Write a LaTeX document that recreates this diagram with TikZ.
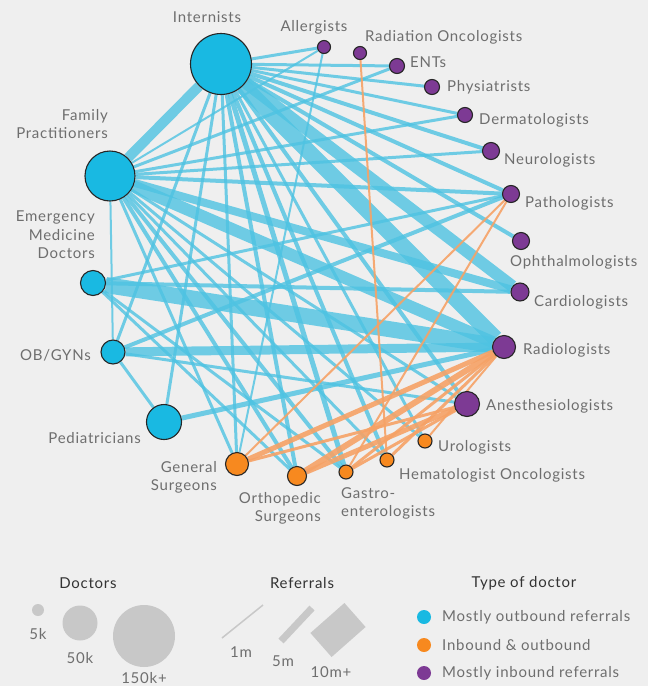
\documentclass[tikz,border=0pt]{standalone}
\usepackage{fontspec}
\setmainfont{Lato}[LetterSpace=5]
\pgfdeclarelayer{back}
\pgfdeclarelayer{bg}
\pgfsetlayers{back,bg,main}
\definecolor{bgc}{HTML}{EFEFEF}
\definecolor{cblue}{HTML}{19B9E2}
\definecolor{corange}{HTML}{F7891F}
\definecolor{cpurple}{HTML}{7D3A94}
\definecolor{eblue}{HTML}{4EC3E2}
\definecolor{eorange}{HTML}{F6A266}
\definecolor{txt}{HTML}{6E6E6E}
\definecolor{hdr}{HTML}{333333}
\definecolor{lg}{HTML}{C8C8C8}
\tikzset{
  x=1pt,y=-1pt,
  dot/.style={circle,draw=black!85,line width=1.1pt,inner sep=0pt},
  nb/.style={dot,fill=cblue},
  no/.style={dot,fill=corange},
  np/.style={dot,fill=cpurple},
  lbl/.style={text=txt,font=\fontsize{15}{18.5}\selectfont,inner sep=0pt},
  hd/.style={text=hdr,font=\fontsize{15}{18}\selectfont,inner sep=0pt},
  eb/.style={draw=eblue,draw opacity=0.8,line cap=butt},
  eo/.style={draw=eorange,draw opacity=0.9,line cap=butt},
  lgd/.style={circle,fill=lg,inner sep=0pt},
}
\begin{document}
\begin{tikzpicture}
\begin{pgfonlayer}{back}
\fill[bgc] (0,0) rectangle (648,686);
\end{pgfonlayer}
\useasboundingbox (0,0) rectangle (648,686);
% nodes
\node[nb,minimum size=61] (IN) at (221,64) {};
\node[nb,minimum size=50] (FP) at (110,176) {};
\node[nb,minimum size=25] (EM) at (93,283) {};
\node[nb,minimum size=24] (OB) at (113,352) {};
\node[nb,minimum size=35] (PE) at (164,422) {};
\node[no,minimum size=23] (GS) at (237,464) {};
\node[no,minimum size=19] (OS) at (297,476) {};
\node[no,minimum size=14] (GA) at (346,472) {};
\node[no,minimum size=14] (HO) at (387,460) {};
\node[no,minimum size=14] (UR) at (425,441) {};
\node[np,minimum size=25] (AN) at (467,404) {};
\node[np,minimum size=23] (RA) at (504,347) {};
\node[np,minimum size=18] (CA) at (520,292) {};
\node[np,minimum size=17] (OP) at (521,241) {};
\node[np,minimum size=17] (PA) at (511,194) {};
\node[np,minimum size=17] (NE) at (491,151) {};
\node[np,minimum size=15] (DE) at (465,115) {};
\node[np,minimum size=15] (PH) at (432,87) {};
\node[np,minimum size=15] (EN) at (397,66) {};
\node[np,minimum size=13] (RO) at (360,53) {};
\node[np,minimum size=13] (AL) at (324,47) {};
% labels
\node[lbl] (lIN) at (207,17) {Internists};
\node[lbl] (lAL) at (314,27) {Allergists};
\node[lbl,anchor=west] (lRO) at (365,37) {Radiation Oncologists};
\node[lbl,anchor=west] (lEN) at (410,62) {ENTs};
\node[lbl,anchor=west] (lPH) at (447,87) {Physiatrists};
\node[lbl,anchor=west] (lDE) at (479,120) {Dermatologists};
\node[lbl,anchor=west] (lNE) at (504,160) {Neurologists};
\node[lbl,anchor=west] (lPA) at (525,203) {Pathologists};
\node[lbl,anchor=west] (lOP) at (510,262) {Ophthalmologists};
\node[lbl,anchor=west] (lCA) at (534,302) {Cardiologists};
\node[lbl,anchor=west] (lRA) at (523,350) {Radiologists};
\node[lbl,anchor=west] (lAN) at (486,406) {Anesthesiologists};
\node[lbl,anchor=west] (lUR) at (438,447) {Urologists};
\node[lbl,anchor=west] (lHO) at (399,475) {Hematologist Oncologists};
\node[lbl,anchor=north west,align=left] (lGA) at (341,487) {Gastro-\\enterologists};
\node[lbl,anchor=north east,align=right] (lOS) at (321,492) {Orthopedic\\Surgeons};
\node[lbl,anchor=north east,align=right] (lGS) at (217,461) {General\\Surgeons};
\node[lbl,anchor=east] (lPE) at (141,438) {Pediatricians};
\node[lbl,anchor=east] (lOB) at (91,355) {OB/GYNs};
\node[lbl,anchor=north east,align=right] (lEM) at (95,211) {Emergency\\Medicine\\Doctors};
\node[lbl,anchor=north east,align=right] (lFP) at (108,109) {Family\\Practitioners};
% edges
\begin{pgfonlayer}{bg}
\draw[eb,line width=10] (IN) -- (FP);
\draw[eb,line width=12] (IN) -- (CA);
\draw[eb,line width=16] (IN) -- (RA);
\draw[eb,line width=3] (IN) -- (AL);
\draw[eb,line width=3] (IN) -- (EN);
\draw[eb,line width=3] (IN) -- (PH);
\draw[eb,line width=3] (IN) -- (DE);
\draw[eb,line width=4] (IN) -- (NE);
\draw[eb,line width=4] (IN) -- (PA);
\draw[eb,line width=4] (IN) -- (OP);
\draw[eb,line width=4] (IN) -- (AN);
\draw[eb,line width=3] (IN) -- (UR);
\draw[eb,line width=4] (IN) -- (HO);
\draw[eb,line width=5] (IN) -- (GA);
\draw[eb,line width=4] (IN) -- (OS);
\draw[eb,line width=3] (IN) -- (GS);
\draw[eb,line width=3] (IN) -- (OB);
\draw[eb,line width=3] (IN) -- (PE);
\draw[eb,line width=3] (FP) -- (EN);
\draw[eb,line width=3] (FP) -- (DE);
\draw[eb,line width=3] (FP) -- (NE);
\draw[eb,line width=4] (FP) -- (PA);
\draw[eb,line width=8] (FP) -- (CA);
\draw[eb,line width=12] (FP) -- (RA);
\draw[eb,line width=3] (FP) -- (AN);
\draw[eb,line width=4] (FP) -- (OS);
\draw[eb,line width=4] (FP) -- (GA);
\draw[eb,line width=3] (FP) -- (HO);
\draw[eb,line width=3] (FP) -- (UR);
\draw[eb,line width=3] (FP) -- (GS);
\draw[eb,line width=2] (FP) -- (OB);
\draw[eb,line width=2] (AL) -- (FP);
\draw[eb,line width=2] (AL) -- (GS);
\draw[eb,line width=16] (EM) -- (RA);
\draw[eb,line width=3] (EM) -- (PA);
\draw[eb,line width=4] (EM) -- (CA);
\draw[eb,line width=3] (EM) -- (OS);
\draw[eb,line width=3] (EM) -- (GA);
\draw[eb,line width=9] (OB) -- (RA);
\draw[eb,line width=4] (OB) -- (PA);
\draw[eb,line width=3] (OB) -- (PE);
\draw[eb,line width=3] (OB) -- (AN);
\draw[eb,line width=5] (PE) -- (RA);
\draw[eo,line width=2] (GS) -- (PA);
\draw[eo,line width=5] (GS) -- (RA);
\draw[eo,line width=3] (GS) -- (AN);
\draw[eo,line width=6] (OS) -- (RA);
\draw[eo,line width=5] (OS) -- (AN);
\draw[eo,line width=3] (GA) -- (RA);
\draw[eo,line width=2] (GA) -- (PA);
\draw[eo,line width=3] (GA) -- (AN);
\draw[eo,line width=2] (HO) -- (RO);
\draw[eo,line width=3] (HO) -- (RA);
\draw[eo,line width=2] (UR) -- (RA);
\end{pgfonlayer}
% legend
\node[hd] (hDoc) at (88,583) {Doctors};
\node[lgd,minimum size=12] (d5) at (38,610) {};
\node[lgd,minimum size=35] (d50) at (80,623) {};
\node[lgd,minimum size=62] (d150) at (144,636) {};
\node[lbl] (t5) at (38,634) {5k};
\node[lbl] (t50) at (80,658) {50k};
\node[lbl] (t150) at (144,678) {150k+};
\node[hd] (hRef) at (302,583) {Referrals};
\coordinate (r1a) at (222,638); \coordinate (r1b) at (263,605);
\draw[lg,line width=1.5] (r1a) -- (r1b);
\coordinate (r5a) at (281,641); \coordinate (r5b) at (312,608);
\draw[lg,line width=7] (r5a) -- (r5b);
\coordinate (r10a) at (321,645); \coordinate (r10b) at (355,615);
\draw[lg,line width=32] (r10a) -- (r10b);
\node[lbl] (t1m) at (241,652) {1m};
\node[lbl] (t5m) at (283,661) {5m};
\node[lbl] (t10m) at (331,672) {10m+};
\node[hd] (hType) at (524,583) {Type of doctor};
\node[circle,fill=cblue,inner sep=0pt,minimum size=14] (k1) at (424,617) {};
\node[circle,fill=corange,inner sep=0pt,minimum size=14] (k2) at (424,645) {};
\node[circle,fill=cpurple,inner sep=0pt,minimum size=14] (k3) at (424,673) {};
\node[lbl,anchor=west] (tk1) at (442,617) {Mostly outbound referrals};
\node[lbl,anchor=west] (tk2) at (442,645) {Inbound \& outbound};
\node[lbl,anchor=west] (tk3) at (442,673) {Mostly inbound referrals};
\end{tikzpicture}
\end{document}
